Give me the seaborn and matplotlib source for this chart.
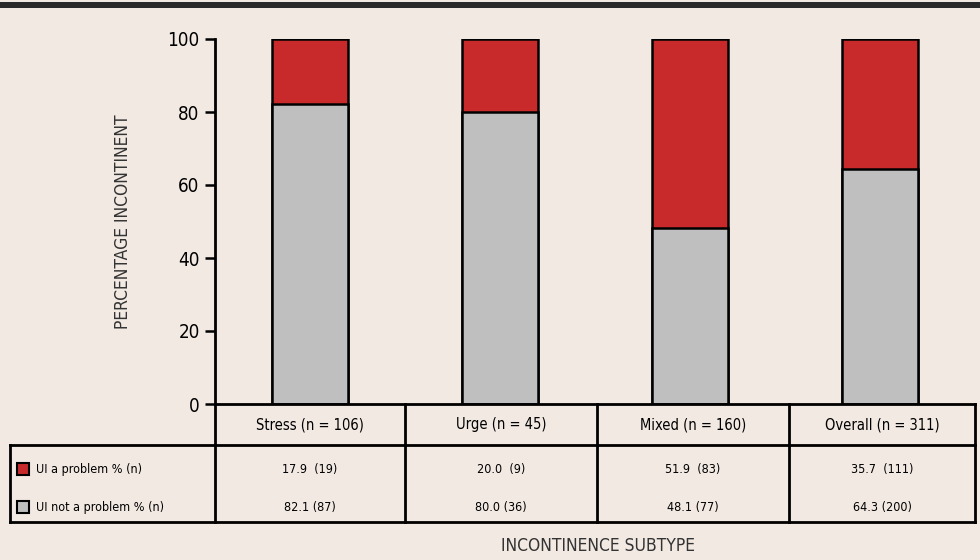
import matplotlib
matplotlib.use("Agg")
import matplotlib.pyplot as plt
import seaborn as sns
import pandas as pd
from matplotlib.lines import Line2D
from matplotlib.patches import Rectangle

categories = ["Stress (n = 106)", "Urge (n = 45)", "Mixed (n = 160)", "Overall (n = 311)"]
problem_pct = [17.9, 20.0, 51.9, 35.7]
problem_n = [19, 9, 83, 111]
not_problem_pct = [82.1, 80.0, 48.1, 64.3]
not_problem_n = [87, 36, 77, 200]
row_labels = ["UI a problem % (n)", "UI not a problem % (n)"]
yticks = [0, 20, 40, 60, 80, 100]

BG = "#f2e9e3"
RED = "#c8292b"
GRAY = "#c0bfc0"

sns.set_theme(style="white")
plt.rcParams["font.family"] = ["DejaVu Sans"]
plt.rcParams["font.stretch"] = "condensed"
plt.rcParams["text.color"] = "black"
plt.rcParams["ytick.color"] = "black"
plt.rcParams["ytick.labelcolor"] = "black"

W, H = 980, 560
fig = plt.figure(figsize=(W / 100, H / 100), dpi=100, facecolor=BG)

def fx(px):
    return px / W

def fy(py):
    return 1 - py / H

ax_left, ax_right, ax_top, ax_bot = 215, 975, 39, 404
ax = fig.add_axes([fx(ax_left), fy(ax_bot), fx(ax_right) - fx(ax_left), fy(ax_top) - fy(ax_bot)])
ax.set_facecolor(BG)

df = pd.DataFrame({
    "cat": categories,
    "total": [p + q for p, q in zip(problem_pct, not_problem_pct)],
    "not": not_problem_pct,
})
sns.barplot(data=df, x="cat", y="total", color=RED, width=0.4, edgecolor="black",
            linewidth=1.8, saturation=1, ax=ax)
sns.barplot(data=df, x="cat", y="not", color=GRAY, width=0.4, edgecolor="black",
            linewidth=1.8, saturation=1, ax=ax)

ax.set_xlim(-0.5, 3.5)
ax.set_ylim(0, 100)
ax.set_yticks(yticks)
ax.set_yticklabels([str(t) for t in yticks], fontsize=13.5, color="black")
ax.tick_params(axis="y", length=7, width=1.8, color="black", pad=4, left=True)
ax.set_xticks([])
ax.set_xlabel("")
ax.set_ylabel("")
for s in ["top", "right"]:
    ax.spines[s].set_visible(False)
for s in ["left", "bottom"]:
    ax.spines[s].set_color("black")
    ax.spines[s].set_linewidth(2)
ax.spines["bottom"].set_zorder(5)

# top dark stripe
fig.add_artist(Rectangle((0, fy(8)), 1, fy(2) - fy(8), transform=fig.transFigure,
                         facecolor="#2a2a2a", edgecolor="none"))

# table
def line(x0, y0, x1, y1):
    fig.add_artist(Line2D([fx(x0), fx(x1)], [fy(y0), fy(y1)], color="black", lw=2,
                          transform=fig.transFigure, solid_capstyle="projecting"))

col_edges = [215, 405, 597, 789, 975]
for x in col_edges:
    line(x, 404, x, 522)
line(10, 445, 975, 445)
line(10, 522, 975, 522)
line(10, 445, 10, 522)

centers = [(col_edges[i] + col_edges[i + 1]) / 2 for i in range(4)]
for c, lab in zip(centers, categories):
    fig.text(fx(c), fy(425), lab, ha="center", va="center", fontsize=10.5, color="black")

row_y = [469, 507]
for c, p, n in zip(centers, problem_pct, problem_n):
    fig.text(fx(c), fy(row_y[0]), f"{p:.1f}  ({n})", ha="center", va="center", fontsize=9)
for c, p, n in zip(centers, not_problem_pct, not_problem_n):
    fig.text(fx(c), fy(row_y[1]), f"{p:.1f} ({n})", ha="center", va="center", fontsize=9)

for yy, col, lab in zip(row_y, [RED, GRAY], row_labels):
    fig.add_artist(Rectangle((fx(17), fy(yy + 6)), fx(12), fy(yy - 6) - fy(yy + 6),
                             transform=fig.transFigure, facecolor=col,
                             edgecolor="black", lw=1.5))
    fig.text(fx(36), fy(yy), lab, ha="left", va="center", fontsize=9)

fig.text(fx(123), fy(222), "PERCENTAGE INCONTINENT", rotation=90, ha="center",
         va="center", fontsize=12.5, color="#333333")
fig.text(fx(598), fy(546), "INCONTINENCE SUBTYPE", ha="center", va="center",
         fontsize=12.5, color="#333333")

fig.savefig("out.png", dpi=100, facecolor=BG)
